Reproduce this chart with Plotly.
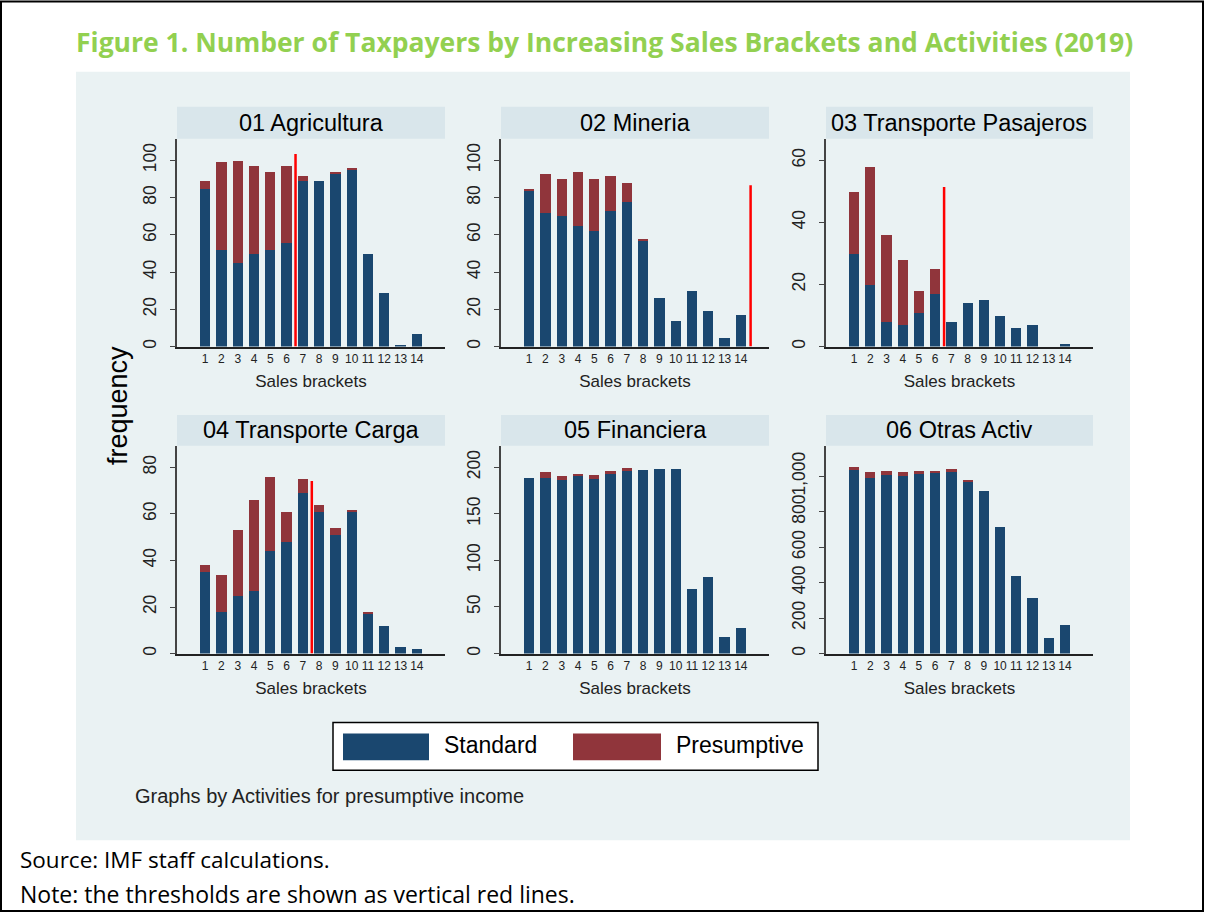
"""Taxpayers by sales bracket and activity, small multiples."""
import plotly.graph_objects as go

W, H = 1205, 915

brackets = list(range(1, 15))

# standard / presumptive counts per activity
agri_std = [85, 52, 45, 50, 52, 56, 89, 89, 93, 95, 50, 29, 1, 7]
agri_pre = [4, 47, 55, 47, 42, 41, 3, 0, 1, 1, 0, 0, 0, 0]
mine_std = [84, 72, 70, 65, 62, 73, 78, 57, 26, 14, 30, 19, 5, 17]
mine_pre = [1, 21, 20, 29, 28, 19, 10, 1, 0, 0, 0, 0, 0, 0]
tpas_std = [30, 20, 8, 7, 11, 17, 8, 14, 15, 10, 6, 7, 0, 1]
tpas_pre = [20, 38, 28, 21, 7, 8, 0, 0, 0, 0, 0, 0, 0, 0]
tcar_std = [35, 18, 25, 27, 44, 48, 69, 61, 51, 61, 17, 12, 3, 2]
tcar_pre = [3, 16, 28, 39, 32, 13, 6, 3, 3, 1, 1, 0, 0, 0]
fina_std = [189, 189, 186, 191, 188, 194, 197, 197, 198, 198, 70, 82, 18, 28]
fina_pre = [0, 6, 5, 2, 4, 2, 2, 0, 0, 0, 0, 0, 0, 0]
otra_std = [1041, 991, 1009, 1002, 1013, 1019, 1030, 972, 919, 715, 441, 315, 90, 160]
otra_pre = [11, 35, 22, 24, 19, 13, 11, 9, 0, 0, 0, 0, 0, 0]

activities = ["01 Agricultura", "02 Mineria", "03 Transporte Pasajeros",
              "04 Transporte Carga", "05 Financiera", "06 Otras Activ"]
std_series = [agri_std, mine_std, tpas_std, tcar_std, fina_std, otra_std]
pre_series = [agri_pre, mine_pre, tpas_pre, tcar_pre, fina_pre, otra_pre]

# thresholds (red lines)
threshold_x = [6.55, 14.6, 6.55, 7.55, None, None]
threshold_top = [103.4, 86.6, 51.4, 74.1, None, None]

y_ticks = [[0, 20, 40, 60, 80, 100], [0, 20, 40, 60, 80, 100], [0, 20, 40, 60],
           [0, 20, 40, 60, 80], [0, 50, 100, 150, 200], [0, 200, 400, 600, 800, 1000]]
y_ticktext = [None, None, None, None, None, ["0", "200", "400", "600", "800", "1,000"]]
y_max = [111.6, 111.6, 67, 89.3, 223, 1172]

BLUE = "#1a476f"
RED = "#90353b"
BG = "#eaf2f3"
STRIP = "#d9e6eb"
FONT = "Liberation Sans, Arial, sans-serif"

# panel boxes in pixels
cols = [(177, 445), (501, 769), (826, 1093)]
rows = [(139, 347.3), (446.7, 655)]
strip_tops = [107, 416]


def px_x(v):
    return v / W


def px_y(v):
    return 1 - v / H


fig = go.Figure()
shapes = []
annotations = []

# grey graph region and outer frame
shapes.append(dict(type="rect", xref="paper", yref="paper", x0=px_x(76), x1=px_x(1130),
                   y0=px_y(842), y1=px_y(72), fillcolor=BG, line_width=0, layer="below"))
shapes.append(dict(type="rect", xref="paper", yref="paper", x0=px_x(1), x1=px_x(1203),
                   y0=px_y(913), y1=px_y(1.5), line=dict(color="black", width=2)))

for i, name in enumerate(activities):
    r, c = divmod(i, 3)
    left, right = cols[c]
    top, bottom = rows[r]
    n = "" if i == 0 else str(i + 1)
    xa, ya = "x" + n, "y" + n

    fig.add_bar(x=brackets, y=std_series[i], xaxis=xa, yaxis=ya, marker_color=BLUE,
                width=0.63, name="Standard", showlegend=False, marker_line_width=0)
    fig.add_bar(x=brackets, y=pre_series[i], xaxis=xa, yaxis=ya, marker_color=RED,
                width=0.63, name="Presumptive", showlegend=False, marker_line_width=0)
    if threshold_x[i] is not None:
        fig.add_scatter(x=[threshold_x[i], threshold_x[i]], y=[0, threshold_top[i]],
                        xaxis=xa, yaxis=ya, mode="lines", showlegend=False,
                        line=dict(color="#ff0000", width=2.5), hoverinfo="skip")

    fig.update_layout(**{
        "xaxis" + n: dict(domain=[px_x(left), px_x(right)], anchor=ya,
                          range=[-0.73, 15.73], tickvals=brackets, ticks="",
                          showgrid=False, zeroline=False, showline=True,
                          linecolor="#222", linewidth=1.5,
                          tickfont=dict(size=12, color="#222"),
                          title=dict(text="Sales brackets", font=dict(size=17, color="#222"),
                                     standoff=10)),
        "yaxis" + n: dict(domain=[px_y(bottom), px_y(top)], anchor=xa,
                          range=[0, y_max[i]], tickvals=y_ticks[i], ticktext=y_ticktext[i],
                          tickangle=-90, ticks="outside", ticklen=5, tickcolor="#444",
                          tickfont=dict(size=17.5, color="#222"), ticklabelstandoff=7,
                          showgrid=True, gridcolor=BG, gridwidth=1.5, zeroline=False,
                          showline=True, linecolor="#444", linewidth=1.5),
    })

    # title strip above each panel
    st = strip_tops[r]
    shapes.append(dict(type="rect", xref="paper", yref="paper", x0=px_x(left), x1=px_x(right),
                       y0=px_y(top), y1=px_y(st), fillcolor=STRIP, line_width=0))
    annotations.append(dict(text=name, x=px_x((left + right) / 2), y=px_y((st + top) / 2),
                            xanchor="center", yanchor="middle",
                            font=dict(size=23.5, color="black")))

# legend drawn by hand to get the wide Stata swatches
shapes += [
    dict(type="rect", xref="paper", yref="paper", x0=px_x(333), x1=px_x(818),
         y0=px_y(772), y1=px_y(724), fillcolor="white", line=dict(color="black", width=1.5)),
    dict(type="rect", xref="paper", yref="paper", x0=px_x(343), x1=px_x(429),
         y0=px_y(762), y1=px_y(735), fillcolor=BLUE, line_width=0),
    dict(type="rect", xref="paper", yref="paper", x0=px_x(573), x1=px_x(661),
         y0=px_y(762), y1=px_y(735), fillcolor=RED, line_width=0),
]
annotations += [
    dict(text="Standard", x=px_x(442), y=px_y(747), xanchor="left", yanchor="middle",
         font=dict(size=23, color="black")),
    dict(text="Presumptive", x=px_x(674), y=px_y(747), xanchor="left", yanchor="middle",
         font=dict(size=23, color="black")),
    dict(text="frequency", x=px_x(118), y=px_y(407), textangle=-90, xanchor="center",
         yanchor="middle", font=dict(size=27, color="black")),
    dict(text="Graphs by Activities for presumptive income", x=px_x(133), y=px_y(798),
         xanchor="left", yanchor="middle", font=dict(size=20, color="#222")),
    dict(text="<b>Figure 1. Number of Taxpayers by Increasing Sales Brackets and Activities (2019)</b>",
         x=px_x(604), y=px_y(42), xanchor="center", yanchor="middle",
         font=dict(size=26.5, color="#92d050", family="Open Sans")),
    dict(text="Source: IMF staff calculations.", x=px_x(18), y=px_y(861), xanchor="left",
         yanchor="middle", font=dict(size=22.5, color="black", family="Open Sans")),
    dict(text="Note: the thresholds are shown as vertical red lines.", x=px_x(18), y=px_y(896),
         xanchor="left", yanchor="middle", font=dict(size=23, color="black", family="Open Sans")),
]
for a in annotations:
    a.setdefault("xref", "paper")
    a.setdefault("yref", "paper")
    a.setdefault("showarrow", False)

fig.update_layout(width=W, height=H, margin=dict(l=0, r=0, t=0, b=0),
                  paper_bgcolor="white", plot_bgcolor="white", barmode="stack",
                  bargap=0, font=dict(family=FONT), shapes=shapes, annotations=annotations,
                  showlegend=False)
# page has a default 8px body margin; drop it so the figure sits at the window origin
fig.write_html("out.html", config={"displayModeBar": False},
               post_script="document.body.style.margin='0px';")
